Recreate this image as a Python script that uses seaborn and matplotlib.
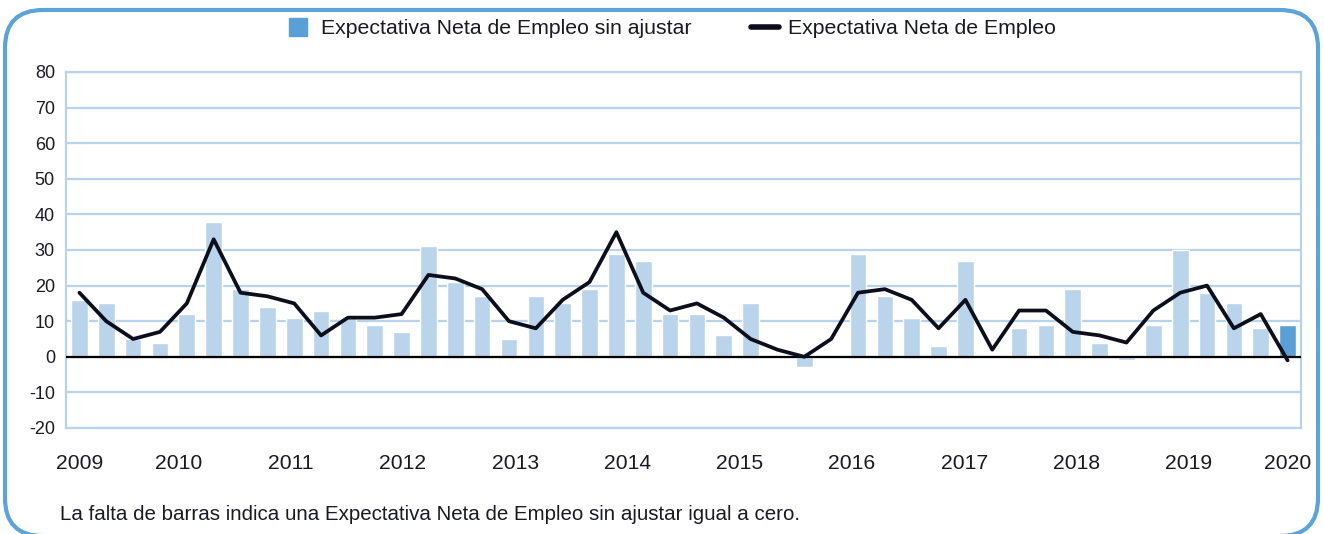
import numpy as np
import pandas as pd
import matplotlib
matplotlib.use("Agg")
import matplotlib.pyplot as plt
import seaborn as sns
from matplotlib.lines import Line2D
from matplotlib.patches import FancyBboxPatch

# etiquetas de los ejes
years = [str(y) for y in range(2009, 2021)]
quarters = [f"{y}-T{q}" for y in range(2009, 2021) for q in range(1, 5)][:46]

# Expectativa Neta de Empleo sin ajustar (barras)
sin_ajustar = [16, 15, 5, 4, 12, 38, 19, 14, 11, 13, 11, 9,
               7, 31, 21, 17, 5, 17, 15, 19, 29, 27, 12, 12,
               6, 15, 0, -3, 0, 29, 17, 11, 3, 27, 0, 8,
               9, 19, 4, -1, 9, 30, 18, 15, 8, 9]

# Expectativa Neta de Empleo (linea)
neta = [18, 10, 5, 7, 15, 33, 18, 17, 15, 6, 11, 11,
        12, 23, 22, 19, 10, 8, 16, 21, 35, 18, 13, 15,
        11, 5, 2, 0, 5, 18, 19, 16, 8, 16, 2, 13,
        13, 7, 6, 4, 13, 18, 20, 8, 12, -1]

bar_light = "#BAD4EC"
bar_dark = "#5A9FD5"
grid_col = "#B9D3EC"
line_col = "#0C0E1C"
frame_col = "#5BA3DA"
text_col = "#1A1A24"

sns.set_theme(style="white")
plt.rcParams["font.family"] = ["Liberation Sans", "DejaVu Sans"]
plt.rcParams["axes.unicode_minus"] = False

df = pd.DataFrame({"trimestre": quarters, "sin_ajustar": sin_ajustar, "neta": neta})
n = len(df)
colors = [bar_light] * (n - 1) + [bar_dark]

fig = plt.figure(figsize=(13.24, 5.34), dpi=100)
ax = fig.add_axes([66 / 1324, 1 - 428 / 534, (1301 - 66) / 1324, (428 - 72) / 534])

sns.barplot(data=df, x="trimestre", y="sin_ajustar", hue="trimestre", palette=colors,
            legend=False, width=0.62, saturation=1, ax=ax, zorder=2)
sns.lineplot(x=np.arange(n), y=df["neta"].values, color=line_col, lw=2.7, ax=ax, zorder=4)
ax.axhline(0, color="black", lw=1.6, zorder=3)

# ejes y rejilla
ax.set_xlim(-0.5, n - 0.5)
ax.set_ylim(-20, 80)
ax.set_yticks(range(-20, 81, 10))
grid_pos = [-0.5 + k * n / 11 for k in range(1, 11)]
ax.set_xticks(grid_pos, minor=True)
ax.set_xticks([0] + grid_pos + [n - 1], years)
ax.set_axisbelow(True)
ax.grid(which="minor", axis="x", color=grid_col, lw=1.6)
ax.grid(which="major", axis="y", color=grid_col, lw=1.6)
ax.grid(which="major", axis="x", visible=False)
for s in ax.spines.values():
    s.set_color(grid_col)
    s.set_linewidth(1.6)
ax.tick_params(axis="x", which="both", length=0, pad=18.5, labelsize=15.2, colors=text_col)
ax.tick_params(axis="y", length=0, pad=8, labelsize=13, colors=text_col)
ax.set_xlabel("")
ax.set_ylabel("")

# leyenda
handles = [Line2D([], [], marker="s", ls="none", markersize=12.5, color=bar_dark),
           Line2D([], [], color=line_col, lw=4, solid_capstyle="round")]
labels = ["Expectativa Neta de Empleo sin ajustar", "Expectativa Neta de Empleo"]
fig.legend(handles, labels, loc="center", bbox_to_anchor=(670 / 1324, 1 - 29 / 534), ncol=2,
           frameon=False, fontsize=15.3, handlelength=1.3, handletextpad=0.45,
           columnspacing=2.8, labelcolor=text_col)

fig.text(60 / 1324, 1 - 515 / 534,
         "La falta de barras indica una Expectativa Neta de Empleo sin ajustar igual a cero.",
         fontsize=14.8, va="center", ha="left", color=text_col)

# marco redondeado
frame = FancyBboxPatch((0.05, -0.02), 13.13, 5.26, boxstyle="round,pad=0,rounding_size=0.38",
                       transform=fig.dpi_scale_trans, fill=False, ec=frame_col, lw=3)
fig.patches.append(frame)

fig.savefig("out.png", dpi=100)
